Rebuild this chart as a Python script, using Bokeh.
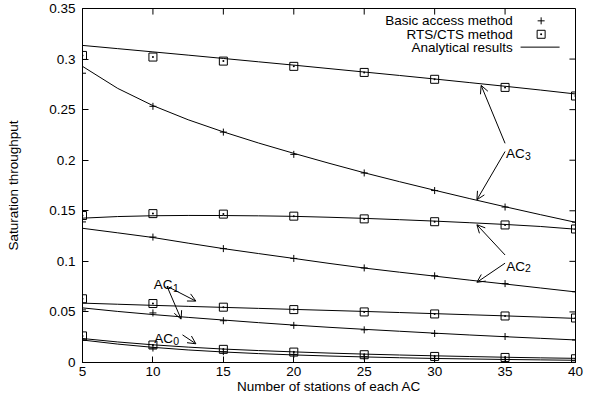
from bokeh.plotting import figure
from bokeh.models import FixedTicker, Label, Arrow, OpenHead, Range1d
from bokeh.embed import file_html
from bokeh.resources import INLINE

# ---------------- data ----------------
stations = [5, 10, 15, 20, 25, 30, 35, 40]
stations_fine = [5, 7.5, 10, 12.5, 15, 17.5, 20, 22.5, 25, 27.5, 30, 32.5, 35, 37.5, 40]

# simulation, basic access method
basic_ac3 = [0.2860, 0.2533, 0.2278, 0.2058, 0.1874, 0.1700, 0.1537, 0.1388]
basic_ac2 = [0.1390, 0.1240, 0.1126, 0.1029, 0.0935, 0.0857, 0.0780, 0.0700]
basic_ac1 = [0.0520, 0.0490, 0.0413, 0.0367, 0.0323, 0.0287, 0.0257, 0.0223]
basic_ac0 = [0.0220, 0.0143, 0.0107, 0.0080, 0.0057, 0.0040, 0.0030, 0.0017]

# simulation, RTS/CTS method
rts_ac3 = [0.3036, 0.3020, 0.2980, 0.2928, 0.2868, 0.2800, 0.2720, 0.2635]
rts_ac2 = [0.1453, 0.1472, 0.1467, 0.1447, 0.1420, 0.1392, 0.1360, 0.1320]
rts_ac1 = [0.0630, 0.0583, 0.0547, 0.0523, 0.0500, 0.0480, 0.0460, 0.0440]
rts_ac0 = [0.0263, 0.0173, 0.0130, 0.0103, 0.0077, 0.0060, 0.0050, 0.0037]

# analytical results
ana_rts_ac3 = [0.3135, 0.3103, 0.3071, 0.3039, 0.3006, 0.2973, 0.2940, 0.2906,
               0.2872, 0.2838, 0.2803, 0.2767, 0.2731, 0.2694, 0.2655]
ana_basic_ac3 = [0.2928, 0.2710, 0.2540, 0.2400, 0.2280, 0.2170, 0.2068, 0.1970,
                 0.1876, 0.1788, 0.1703, 0.1620, 0.1540, 0.1462, 0.1386]
ana_rts_ac2 = [0.1427, 0.1443, 0.1451, 0.1454, 0.1453, 0.1450, 0.1445, 0.1436,
               0.1425, 0.1412, 0.1398, 0.1382, 0.1365, 0.1345, 0.1318]
ana_basic_ac2 = [0.1327, 0.1282, 0.1236, 0.1180, 0.1126, 0.1077, 0.1029, 0.0980,
                 0.0934, 0.0893, 0.0854, 0.0814, 0.0776, 0.0737, 0.0698]
ana_rts_ac1 = [0.0587, 0.0576, 0.0565, 0.0555, 0.0545, 0.0535, 0.0525, 0.0515,
               0.0505, 0.0494, 0.0483, 0.0472, 0.0461, 0.0449, 0.0436]
ana_basic_ac1 = [0.0540, 0.0505, 0.0474, 0.0446, 0.0420, 0.0394, 0.0370, 0.0348,
                 0.0328, 0.0309, 0.0290, 0.0272, 0.0255, 0.0239, 0.0223]
ana_rts_ac0 = [0.0237, 0.0203, 0.0175, 0.0152, 0.0133, 0.0118, 0.0105, 0.0093,
               0.0083, 0.0074, 0.0066, 0.0059, 0.0052, 0.0046, 0.0041]
ana_basic_ac0 = [0.0222, 0.0182, 0.0150, 0.0124, 0.0104, 0.0088, 0.0075, 0.0064,
                 0.0055, 0.0047, 0.0040, 0.0035, 0.0030, 0.0026, 0.0022]

x_ticks = [5, 10, 15, 20, 25, 30, 35, 40]
y_ticks = [0, 0.05, 0.1, 0.15, 0.2, 0.25, 0.3, 0.35]
y_tick_labels = ["0", "0.05", "0.1", "0.15", "0.2", "0.25", "0.3", "0.35"]

legend_labels = ["Basic access method", "RTS/CTS method", "Analytical results"]

FONT = "Liberation Sans"
FS = "13.5px"
SUB_FS = "10.5px"

X_MIN, X_MAX = 5, 40
Y_MIN, Y_MAX = 0, 0.35

# ---------------- figure ----------------
p = figure(width=584, height=396, x_range=Range1d(X_MIN, X_MAX), y_range=Range1d(Y_MIN, Y_MAX),
           output_backend="svg", toolbar_location=None,
           min_border_left=82, min_border_right=9, min_border_top=8, min_border_bottom=30)
p.grid.visible = False
p.outline_line_color = "black"
p.outline_line_alpha = 1
p.outline_line_width = 1
p.background_fill_color = "white"
p.border_fill_color = "white"


def style(ax):
    ax.major_tick_in = 6
    ax.major_tick_out = 0
    ax.minor_tick_line_color = None
    ax.axis_line_color = "black"
    ax.major_tick_line_color = "black"
    ax.major_label_text_font = FONT
    ax.major_label_text_color = "black"
    ax.major_label_text_font_size = FS
    ax.axis_label_text_font = FONT
    ax.axis_label_text_font_size = FS
    ax.axis_label_text_font_style = "normal"
    ax.axis_label_text_color = "black"


xa = p.xaxis[0]
xa.ticker = FixedTicker(ticks=x_ticks)
style(xa)
xa.major_label_standoff = 4
xa.axis_label = "Number of stations of each AC"
xa.axis_label_standoff = 0

ya = p.yaxis[0]
ya.ticker = FixedTicker(ticks=y_ticks)
ya.major_label_overrides = {t: l for t, l in zip(y_ticks, y_tick_labels)}
style(ya)
ya.major_label_standoff = 7
ya.axis_label = "Saturation throughput"
ya.axis_label_standoff = 25

# mirrored inward ticks on the top and right edges (gnuplot style)
TICK_DX = 0.43    # 6 px in x data units
TICK_DY = 0.006   # 6 px in y data units
p.segment(x0=x_ticks, y0=[Y_MAX] * len(x_ticks), x1=x_ticks, y1=[Y_MAX - TICK_DY] * len(x_ticks),
          line_color="black", line_width=1)
p.segment(x0=[X_MAX] * len(y_ticks), y0=y_ticks, x1=[X_MAX - TICK_DX] * len(y_ticks), y1=y_ticks,
          line_color="black", line_width=1)

# ---------------- analytical lines ----------------
for series in [ana_rts_ac3, ana_basic_ac3, ana_rts_ac2, ana_basic_ac2,
               ana_rts_ac1, ana_basic_ac1, ana_rts_ac0, ana_basic_ac0]:
    p.line(stations_fine, series, line_color="black", line_width=1)

# ---------------- simulation markers ----------------
for series in [basic_ac3, basic_ac2, basic_ac1, basic_ac0]:
    p.scatter(stations, series, marker="cross", size=7, line_color="black", line_width=1)
for series in [rts_ac3, rts_ac2, rts_ac1, rts_ac0]:
    p.scatter(stations, series, marker="square_dot", size=8, fill_color=None,
              line_color="black", line_width=1)

# ---------------- legend (gnuplot style: text right-aligned, sample to the right) ----------------
LEG_TEXT_X = 35.55
LEG_ROWS_Y = [0.3378, 0.3245, 0.3118]
LEG_SAMPLE_X = 37.56
LEG_LINE_X0, LEG_LINE_X1 = 36.1, 38.87

for lbl, yy in zip(legend_labels, LEG_ROWS_Y):
    p.add_layout(Label(x=LEG_TEXT_X, y=yy, text=lbl, text_font=FONT, text_font_size=FS,
                       text_align="right", text_baseline="middle", text_color="black"))
p.scatter([LEG_SAMPLE_X], [LEG_ROWS_Y[0]], marker="cross", size=7, line_color="black", line_width=1)
p.scatter([LEG_SAMPLE_X], [LEG_ROWS_Y[1]], marker="square_dot", size=8, fill_color=None,
          line_color="black", line_width=1)
p.line([LEG_LINE_X0, LEG_LINE_X1], [LEG_ROWS_Y[2], LEG_ROWS_Y[2]], line_color="black", line_width=1)

# ---------------- AC annotations ----------------
ac_labels = [
    # (x of "AC", baseline y, x of subscript, subscript baseline y, digit)
    (35.06, 0.2070, 36.42, 0.2038, "3"),
    (35.08, 0.0949, 36.42, 0.0933, "2"),
    (10.05, 0.0770, 11.42, 0.0738, "1"),
    (10.10, 0.0241, 11.45, 0.0208, "0"),
]
for ax_, ay_, sx_, sy_, d in ac_labels:
    p.add_layout(Label(x=ax_, y=ay_, text="AC", text_font=FONT, text_font_size=FS,
                       text_baseline="alphabetic", text_color="black"))
    p.add_layout(Label(x=sx_, y=sy_, text=d, text_font=FONT, text_font_size=SUB_FS,
                       text_baseline="alphabetic", text_color="black"))

arrows = [
    (35.00, 0.2167, 33.30, 0.2740),
    (35.00, 0.2086, 33.00, 0.1609),
    (35.00, 0.1063, 33.00, 0.1362),
    (35.00, 0.0982, 33.00, 0.0793),
    (11.00, 0.0754, 13.05, 0.0607),
    (11.00, 0.0754, 12.00, 0.0429),
    (12.10, 0.0273, 13.05, 0.0185),
]
for xs, ys, xe, ye in arrows:
    p.add_layout(Arrow(end=OpenHead(size=8, line_width=1, line_color="black"),
                       x_start=xs, y_start=ys, x_end=xe, y_end=ye,
                       line_width=1, line_color="black"))

open("out.html", "w").write(file_html(p, INLINE))
